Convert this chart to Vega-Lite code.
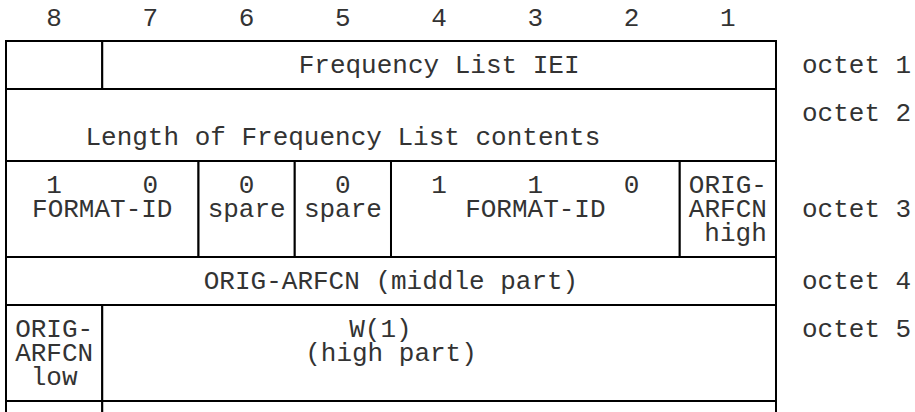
{
  "$schema": "https://vega.github.io/schema/vega-lite/v6.json",
  "width": 915,
  "height": 412,
  "autosize": "none",
  "padding": 0,
  "background": "white",
  "config": {"view": {"stroke": null}},
  "datasets": {
    "cells": [
      {"x": 0, "x2": 1, "y": 0, "y2": 2},
      {"x": 1, "x2": 8, "y": 0, "y2": 2},
      {"x": 0, "x2": 8, "y": 2, "y2": 5},
      {"x": 0, "x2": 2, "y": 5, "y2": 9},
      {"x": 2, "x2": 3, "y": 5, "y2": 9},
      {"x": 3, "x2": 4, "y": 5, "y2": 9},
      {"x": 4, "x2": 7, "y": 5, "y2": 9},
      {"x": 7, "x2": 8, "y": 5, "y2": 9},
      {"x": 0, "x2": 8, "y": 9, "y2": 11},
      {"x": 0, "x2": 1, "y": 11, "y2": 15},
      {"x": 1, "x2": 8, "y": 11, "y2": 15},
      {"x": 0, "x2": 1, "y": 15, "y2": 17},
      {"x": 1, "x2": 8, "y": 15, "y2": 17}
    ],
    "bits": [
      {"text": "8", "x": 0.5, "y": -0.95},
      {"text": "7", "x": 1.5, "y": -0.95},
      {"text": "6", "x": 2.5, "y": -0.95},
      {"text": "5", "x": 3.5, "y": -0.95},
      {"text": "4", "x": 4.5, "y": -0.95},
      {"text": "3", "x": 5.5, "y": -0.95},
      {"text": "2", "x": 6.5, "y": -0.95},
      {"text": "1", "x": 7.5, "y": -0.95}
    ],
    "labels": [
      {"text": "Frequency List IEI", "x": 4.5, "y": 1},
      {"text": "Length of Frequency List contents", "x": 3.5, "y": 4},
      {"text": "1", "x": 0.5, "y": 6},
      {"text": "0", "x": 1.5, "y": 6},
      {"text": "0", "x": 2.5, "y": 6},
      {"text": "0", "x": 3.5, "y": 6},
      {"text": "1", "x": 4.5, "y": 6},
      {"text": "1", "x": 5.5, "y": 6},
      {"text": "0", "x": 6.5, "y": 6},
      {"text": "ORIG-", "x": 7.5, "y": 6},
      {"text": "FORMAT-ID", "x": 1, "y": 7},
      {"text": "spare", "x": 2.5, "y": 7},
      {"text": "spare", "x": 3.5, "y": 7},
      {"text": "FORMAT-ID", "x": 5.5, "y": 7},
      {"text": "ARFCN", "x": 7.5, "y": 7},
      {"text": "high", "x": 7.58, "y": 8},
      {"text": "ORIG-ARFCN (middle part)", "x": 4, "y": 10},
      {"text": "ORIG-", "x": 0.5, "y": 12},
      {"text": "ARFCN", "x": 0.5, "y": 13},
      {"text": "low", "x": 0.5, "y": 14},
      {"text": "W(1)", "x": 3.89, "y": 12},
      {"text": "(high part)", "x": 4, "y": 13}
    ],
    "octets": [
      {"text": "octet 1", "x": 8.27, "y": 1},
      {"text": "octet 2", "x": 8.27, "y": 3},
      {"text": "octet 3", "x": 8.27, "y": 7},
      {"text": "octet 4", "x": 8.27, "y": 10},
      {"text": "octet 5", "x": 8.27, "y": 12}
    ]
  },
  "layer": [
    {
      "data": {"name": "cells"},
      "mark": {"type": "rect", "fill": "white", "stroke": "black", "strokeWidth": 2, "clip": true},
      "encoding": {
        "x": {"field": "x", "type": "quantitative", "scale": {"domain": [-0.06234, 9.44416], "nice": false, "zero": false}, "axis": null},
        "x2": {"field": "x2"},
        "y": {"field": "y", "type": "quantitative", "scale": {"domain": [-1.70833, 15.45833], "nice": false, "zero": false, "reverse": true}, "axis": null},
        "y2": {"field": "y2"}
      }
    },
    {
      "data": {"name": "bits"},
      "mark": {"type": "text", "font": "Liberation Mono", "fontSize": 26, "align": "center", "baseline": "middle", "color": "#333"},
      "encoding": {
        "x": {"field": "x", "type": "quantitative", "axis": null},
        "y": {"field": "y", "type": "quantitative", "axis": null},
        "text": {"field": "text"}
      }
    },
    {
      "data": {"name": "labels"},
      "mark": {"type": "text", "font": "Liberation Mono", "fontSize": 26, "align": "center", "baseline": "middle", "color": "#333"},
      "encoding": {
        "x": {"field": "x", "type": "quantitative", "axis": null},
        "y": {"field": "y", "type": "quantitative", "axis": null},
        "text": {"field": "text"}
      }
    },
    {
      "data": {"name": "octets"},
      "mark": {"type": "text", "font": "Liberation Mono", "fontSize": 26, "align": "left", "baseline": "middle", "color": "#333"},
      "encoding": {
        "x": {"field": "x", "type": "quantitative", "axis": null},
        "y": {"field": "y", "type": "quantitative", "axis": null},
        "text": {"field": "text"}
      }
    }
  ]
}
